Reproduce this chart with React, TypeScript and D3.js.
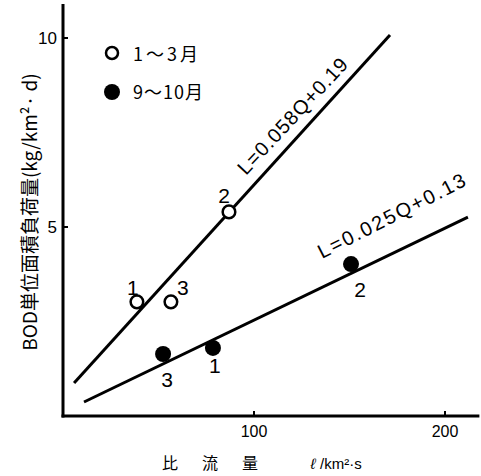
import React from 'react';
import * as d3 from 'd3';

// ---- data ----
const xTicks = [100, 200];
const yTicks = [5, 10];
const janMarQ = [38.7, 86.9, 56.5];
const janMarL = [3.02, 5.4, 3.02];
const janMarLabels = ['1', '2', '3'];
const sepOctQ = [78.5, 150.8, 52.4];
const sepOctL = [1.8, 4.02, 1.64];
const sepOctLabels = ['1', '2', '3'];
const fitJanMarQ = [5.8, 171.2];
const fitJanMarL = [0.87, 10.08];
const fitSepOctQ = [11, 212];
const fitSepOctL = [0.37, 5.26];
const eqJanMar = 'L=0.058Q+0.19';
const eqSepOct = 'L=0.025Q+0.13';
const legendLabels = ['1～3月', '9～10月'];
const yTitle = 'BOD単位面積負荷量(kg/km²· d)';
const xTitleWords = ['比', '流', '量'];
const xUnit = '/km²·s';

// label offsets (pixels) for point labels
const janMarLabelOff = [[-4, -7], [-5, -9], [12, -7]];
const sepOctLabelOff = [[2, 25], [9, 33], [4, 33]];

const W = 481, H = 476;
const NUM = '"Liberation Sans", Arial, sans-serif';
const CJK = '"Noto Sans CJK JP", "Noto Sans", sans-serif';

export default function App() {
  const x = d3.scaleLinear().domain([0, 200]).range([63, 445]);
  const y = d3.scaleLinear().domain([0, 10]).range([416, 38]);
  const line = d3.line<[number, number]>().x(d => x(d[0])).y(d => y(d[1]));
  const fitA: [number, number][] = fitJanMarQ.map((q, i) => [q, fitJanMarL[i]]);
  const fitB: [number, number][] = fitSepOctQ.map((q, i) => [q, fitSepOctL[i]]);

  return (
    <svg width={W} height={H} style={{ position: 'absolute', left: 0, top: 0, background: '#fff' }}>
      <rect width={W} height={H} fill="#fff" />
      {/* axes */}
      <line x1={x(0)} x2={x(0)} y1={y(0) + 1.5} y2={y(10.9)} stroke="#000" strokeWidth={3} />
      <line x1={x(0) - 1.5} x2={x(218)} y1={y(0)} y2={y(0)} stroke="#000" strokeWidth={3} />
      {yTicks.map(t => (
        <g key={'y' + t}>
          <line x1={x(0)} x2={x(0) + 5} y1={y(t)} y2={y(t)} stroke="#000" strokeWidth={2} />
          <text x={x(0) - 6} y={y(t) + 6} textAnchor="end" fontFamily={NUM} fontSize={17} fill="#000">{t}</text>
        </g>
      ))}
      {xTicks.map(t => (
        <g key={'x' + t}>
          <line x1={x(t)} x2={x(t)} y1={y(0)} y2={y(0) - 5} stroke="#000" strokeWidth={2} />
          <text x={x(t)} y={y(0) + 21} textAnchor="middle" fontFamily={NUM} fontSize={16} fill="#000">{t}</text>
        </g>
      ))}
      {/* axis titles */}
      <text transform={`translate(37,212) rotate(-90)`} textAnchor="middle" fontFamily={CJK} fontSize={19} fill="#000">{yTitle}</text>
      {xTitleWords.map((w, i) => (
        <text key={w} x={170 + i * 40} y={469} textAnchor="middle" fontFamily={CJK} fontSize={16} fill="#000">{w}</text>
      ))}
      <text x={313} y={469} textAnchor="middle" fontFamily={NUM} fontStyle="italic" fontSize={15} fill="#000">ℓ</text>
      <text x={320} y={469} fontFamily={NUM} fontSize={15} fill="#000">{xUnit}</text>

      {/* fit lines */}
      <path d={line(fitA) || ''} fill="none" stroke="#000" strokeWidth={3} />
      <path d={line(fitB) || ''} fill="none" stroke="#000" strokeWidth={3} />

      {/* equations */}
      <text transform={`translate(246,176) rotate(-47)`} fontFamily={NUM} fontSize={20} letterSpacing={1} fill="#000">{eqJanMar}</text>
      <text transform={`translate(322,259) rotate(-27)`} fontFamily={NUM} fontSize={20} letterSpacing={2} fill="#000">{eqSepOct}</text>

      {/* points */}
      {janMarQ.map((q, i) => (
        <g key={'a' + i}>
          <circle cx={x(q)} cy={y(janMarL[i])} r={6.3} fill="#fff" stroke="#000" strokeWidth={2.5} />
          <text x={x(q) + janMarLabelOff[i][0]} y={y(janMarL[i]) + janMarLabelOff[i][1]} textAnchor="middle" fontFamily={NUM} fontSize={21} fill="#000">{janMarLabels[i]}</text>
        </g>
      ))}
      {sepOctQ.map((q, i) => (
        <g key={'b' + i}>
          <circle cx={x(q)} cy={y(sepOctL[i])} r={8} fill="#000" />
          <text x={x(q) + sepOctLabelOff[i][0]} y={y(sepOctL[i]) + sepOctLabelOff[i][1]} textAnchor="middle" fontFamily={NUM} fontSize={21} fill="#000">{sepOctLabels[i]}</text>
        </g>
      ))}

      {/* legend */}
      <circle cx={112} cy={53} r={6} fill="#fff" stroke="#000" strokeWidth={2.5} />
      <text x={133} y={61} fontFamily={CJK} fontSize={18} letterSpacing={3} fill="#000">{legendLabels[0]}</text>
      <circle cx={112} cy={92} r={8} fill="#000" />
      <text x={133} y={99} fontFamily={CJK} fontSize={18} letterSpacing={1} fill="#000">{legendLabels[1]}</text>
    </svg>
  );
}
